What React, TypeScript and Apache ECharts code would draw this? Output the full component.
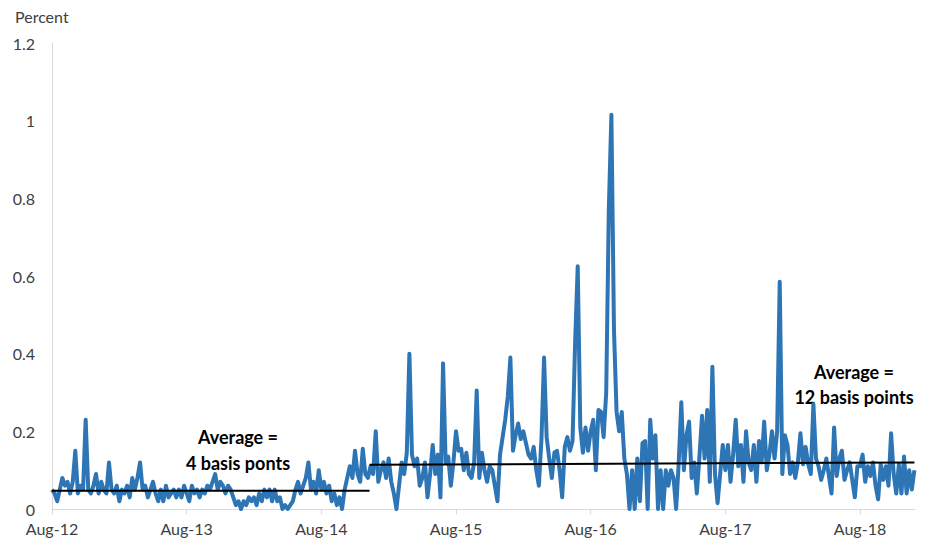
import React, { useEffect, useRef } from "react";
import * as echarts from "echarts";

// Weekly observations starting Aug-2012 (percent)
const seg2012 = [0.05,0.04,0.02,0.05,0.08,0.06,0.07,0.04,0.07,0.15,0.04,0.06,0.05,0.23,0.05,0.04,0.06,0.09,0.04,0.07,0.05,0.04,0.12,0.05,0.04,0.06,0.02,0.05,0.04,0.06,0.03,0.08,0.05,0.08,0.12,0.05,0.06,0.03,0.05,0.07,0.04,0.02,0.05,0.02,0.06,0.03,0.04,0.05];
const seg2013 = [0.03,0.05,0.03,0.06,0.04,0.02,0.06,0.04,0.05,0.03,0.05,0.04,0.06,0.05,0.07,0.09,0.05,0.07,0.06,0.04,0.06,0.05,0.03,0.01,0.02,0.0,0.02,0.01,0.03,0.02,0.03,0.01,0.04,0.02,0.05,0.03,0.05,0.02,0.05,0.02,0.03,0.0,0.01,0.0,0.01,0.02,0.05,0.07];
const seg2014 = [0.04,0.06,0.08,0.12,0.05,0.07,0.04,0.10,0.05,0.07,0.04,0.06,0.02,0.04,0.01,0.03,0.0,0.05,0.08,0.11,0.08,0.15,0.09,0.07,0.155,0.09,0.08,0.11,0.09,0.20,0.07,0.10,0.12,0.08,0.13,0.07,0.04,0.0,0.06,0.12,0.09,0.145,0.40,0.14,0.11,0.13,0.06,0.08];
const seg2015 = [0.12,0.03,0.09,0.165,0.09,0.14,0.03,0.375,0.12,0.135,0.06,0.12,0.20,0.15,0.155,0.10,0.145,0.09,0.08,0.12,0.305,0.08,0.145,0.10,0.07,0.11,0.10,0.06,0.02,0.14,0.185,0.23,0.29,0.39,0.15,0.19,0.22,0.18,0.20,0.17,0.14,0.13,0.16,0.10,0.06,0.18,0.39];
const seg2016 = [0.185,0.13,0.08,0.145,0.15,0.10,0.03,0.16,0.185,0.15,0.175,0.43,0.625,0.21,0.145,0.21,0.15,0.20,0.23,0.10,0.255,0.25,0.185,0.30,0.77,1.015,0.46,0.25,0.20,0.25,0.13,0.09,0.0,0.10,0.0,0.13,0.02,0.17,0.175,0.0,0.23,0.13,0.19,0.0,0.10,0.0,0.10,0.06];
const seg2017 = [0.10,0.08,0.0,0.12,0.275,0.10,0.19,0.225,0.08,0.12,0.04,0.135,0.24,0.13,0.255,0.07,0.366,0.09,0.015,0.09,0.165,0.10,0.165,0.07,0.14,0.23,0.11,0.165,0.07,0.20,0.12,0.10,0.165,0.07,0.175,0.12,0.225,0.10,0.14,0.20,0.13,0.20,0.585,0.09,0.19,0.165,0.09,0.12];
const seg2018 = [0.08,0.12,0.195,0.115,0.16,0.115,0.09,0.27,0.13,0.11,0.075,0.10,0.13,0.085,0.04,0.21,0.085,0.13,0.15,0.075,0.10,0.12,0.075,0.03,0.11,0.11,0.14,0.07,0.11,0.085,0.12,0.06,0.025,0.115,0.075,0.11,0.06,0.195,0.09,0.04,0.115,0.04,0.135,0.04,0.10,0.05,0.10];

const values = [...seg2012, ...seg2013, ...seg2014, ...seg2015, ...seg2016, ...seg2017, ...seg2018];

// x positions are months since Aug-2012; one observation per week
const monthsPerWeek = 12 / 52;
const xMax = 76.9;

const tickMonths = [0, 12, 24, 36, 48, 60, 72];
const tickLabels = ["Aug-12", "Aug-13", "Aug-14", "Aug-15", "Aug-16", "Aug-17", "Aug-18"];

// Period averages (percent): [month, value]
const avgEarly = [[0, 0.047], [28.3, 0.047]];
const avgLate = [[28.3, 0.114], [76.85, 0.12]];

const avgEarlyText = ["Average =", "4 basis ponts"];
const avgLateText = ["Average =", "12 basis points"];

export default function App() {
  const ref = useRef<HTMLDivElement>(null);
  useEffect(() => {
    document.body.style.margin = "0";
    if (!ref.current) return;
    const chart = echarts.init(ref.current, undefined, { renderer: "svg" });
    const seriesData = values.map((v, i) => [i * monthsPerWeek, v]);
    const font = "Lato, 'Open Sans', sans-serif";
    chart.setOption({
      animation: false,
      backgroundColor: "#ffffff",
      grid: { left: 52, right: 27, top: 43, bottom: 37 },
      xAxis: {
        type: "value",
        min: 0,
        max: xMax,
        splitLine: { show: false },
        axisLine: { show: true, lineStyle: { color: "#D9D9D9", width: 1 } },
        axisTick: { show: true, length: 5, lineStyle: { color: "#D9D9D9" }, customValues: tickMonths },
        axisLabel: {
          customValues: tickMonths,
          formatter: (v: number) => {
            const idx = tickMonths.indexOf(Math.round(v));
            return idx >= 0 ? tickLabels[idx] : "";
          },
          color: "#404040",
          fontSize: 16,
          lineHeight: 16,
          fontFamily: font,
          margin: 11,
        },
      },
      yAxis: {
        type: "value",
        min: 0,
        max: 1.2,
        interval: 0.2,
        splitLine: { show: false },
        axisLine: { show: true, lineStyle: { color: "#D9D9D9", width: 1 } },
        axisTick: { show: false },
        axisLabel: {
          color: "#404040",
          fontSize: 16,
          lineHeight: 16,
          fontFamily: font,
          margin: 17,
          formatter: (v: number) => String(Math.round(v * 10) / 10),
        },
      },
      graphic: [
        {
          type: "text",
          left: 15,
          top: 8,
          style: { text: "Percent", fill: "#404040", font: `16px ${font}` },
        },
        {
          type: "text",
          x: 238,
          y: 437,
          style: { text: avgEarlyText[0], fill: "#000", font: `bold 18px ${font}`, textAlign: "center", textVerticalAlign: "middle" },
        },
        {
          type: "text",
          x: 238,
          y: 463,
          style: { text: avgEarlyText[1], fill: "#000", font: `bold 18px ${font}`, textAlign: "center", textVerticalAlign: "middle" },
        },
        {
          type: "text",
          x: 854,
          y: 372,
          style: { text: avgLateText[0], fill: "#000", font: `bold 18px ${font}`, textAlign: "center", textVerticalAlign: "middle" },
        },
        {
          type: "text",
          x: 854,
          y: 397,
          style: { text: avgLateText[1], fill: "#000", font: `bold 18px ${font}`, textAlign: "center", textVerticalAlign: "middle" },
        },
      ],
      series: [
        {
          type: "line",
          data: seriesData,
          showSymbol: false,
          symbol: "none",
          lineStyle: { color: "#2E75B6", width: 4, join: "round" },
          z: 2,
        },
        {
          type: "line",
          data: avgEarly,
          showSymbol: false,
          symbol: "none",
          lineStyle: { color: "#000000", width: 2 },
          z: 3,
        },
        {
          type: "line",
          data: avgLate,
          showSymbol: false,
          symbol: "none",
          lineStyle: { color: "#000000", width: 2 },
          z: 3,
        },
      ],
    });
    return () => chart.dispose();
  }, []);
  return <div ref={ref} style={{ width: 942, height: 546 }} />;
}
